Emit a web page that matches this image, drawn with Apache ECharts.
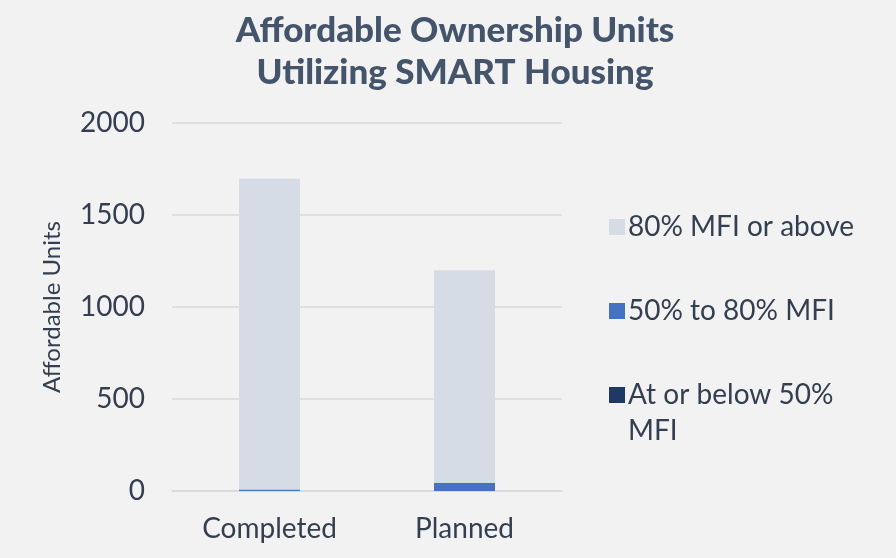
<!DOCTYPE html>
<html><head><meta charset="utf-8">
<script src="https://cdn.jsdelivr.net/npm/echarts@6/dist/echarts.min.js"></script>
<style>html,body{margin:0;padding:0;background:#f2f2f2}#c{width:896px;height:558px}</style>
</head><body><div id="c"></div>
<script>
const categories = ['Completed', 'Planned'];
const seriesNames = ['At or below 50% MFI', '50% to 80% MFI', '80% MFI or above'];
const atOrBelow50 = [0, 0];
const from50to80 = [8, 45];
const above80 = [1689, 1155];
const yTicks = [0, 500, 1000, 1500, 2000];

const colors = ['#1f3864', '#4472c4', '#d6dce5'];
const font = 'Lato, "Open Sans", sans-serif';
const textColor = '#333f50';
const chart = echarts.init(document.getElementById('c'));
const values = [atOrBelow50, from50to80, above80];
chart.setOption({
  backgroundColor: '#f2f2f2',
  animation: false,
  title: {
    text: 'Affordable Ownership Units\nUtilizing SMART Housing',
    left: 450, top: 5, textAlign: 'center',
    textStyle: {fontFamily: font, fontWeight: 900, fontSize: 35, lineHeight: 42, color: '#44546a'}
  },
  legend: {
    orient: 'vertical', left: 604, top: 208, itemWidth: 16, itemHeight: 16, itemGap: 56,
    data: ['80% MFI or above', '50% to 80% MFI', 'At or below 50% MFI'],
    formatter: n => n === 'At or below 50% MFI' ? 'At or below 50%' : n,
    textStyle: {fontFamily: font, fontSize: 28, color: textColor, padding: [0, 0, 0, -2]},
    icon: 'rect'
  },
  graphic: [{type: 'text', left: 628, top: 417, style: {text: 'MFI', font: '28px ' + font, fill: textColor}}],
  grid: {left: 172, right: 334, top: 123, bottom: 67},
  xAxis: {
    type: 'category', data: categories,
    axisLine: {lineStyle: {color: '#d9d9d9', width: 1.5}}, axisTick: {show: false},
    axisLabel: {fontFamily: font, fontSize: 28, color: textColor, margin: 24}
  },
  yAxis: {
    type: 'value', min: yTicks[0], max: yTicks[yTicks.length - 1], interval: 500,
    name: 'Affordable Units', nameLocation: 'middle', nameGap: 108, nameRotate: 90,
    nameTextStyle: {fontFamily: font, fontSize: 24, color: textColor},
    axisLabel: {fontFamily: font, fontSize: 28, color: textColor, margin: 27, formatter: v => String(v)},
    splitLine: {lineStyle: {color: '#d9d9d9', width: 1.5}},
    axisLine: {show: false}, axisTick: {show: false}
  },
  series: seriesNames.map((n, i) => ({
    name: n, type: 'bar', stack: 'total', barWidth: 61, data: values[i],
    itemStyle: {color: colors[i]}
  }))
});
</script></body></html>
